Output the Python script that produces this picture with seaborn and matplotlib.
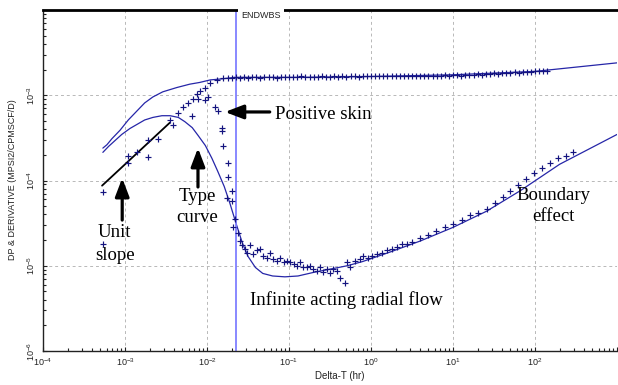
import numpy as np
import pandas as pd
import matplotlib
matplotlib.use("Agg")
import matplotlib.pyplot as plt
import seaborn as sns
from matplotlib.ticker import FixedLocator, FixedFormatter, LogLocator, NullFormatter

# ---------------- data (log10 values) ----------------
# pressure change (DP) data points
dp_log_t = [-3.27, -2.96, -2.85, -2.72, -2.60, -2.45, -2.35, -2.29, -2.23, -2.17,
            -2.12, -2.09, -2.02, -1.96, -1.88, -1.80,
            -1.75, -1.70, -1.65, -1.60, -1.55, -1.50, -1.45, -1.40, -1.35, -1.30,
            -1.25, -1.20, -1.15, -1.10, -1.05, -1.00, -0.95, -0.90, -0.85, -0.80,
            -0.75, -0.70, -0.65, -0.60, -0.55, -0.50, -0.45, -0.40, -0.35, -0.30,
            -0.25, -0.20, -0.15, -0.10, -0.05, 0.00, 0.05, 0.10, 0.15, 0.20,
            0.25, 0.30, 0.35, 0.40, 0.45, 0.50, 0.55, 0.60, 0.65, 0.70,
            0.75, 0.80, 0.85, 0.90, 0.95, 1.00, 1.05, 1.10, 1.15, 1.20,
            1.25, 1.30, 1.35, 1.40, 1.45, 1.50, 1.55, 1.60, 1.65, 1.70,
            1.75, 1.80, 1.85, 1.90, 1.95, 2.00, 2.05, 2.10, 2.15]
dp_log_y = [-4.14, -3.80, -3.67, -3.53, -3.51, -3.29, -3.21, -3.14, -3.09, -3.04,
            -2.99, -2.95, -2.91, -2.86, -2.82, -2.80,
            -2.80, -2.80, -2.79, -2.80, -2.79, -2.80, -2.79, -2.79, -2.80, -2.79,
            -2.79, -2.79, -2.80, -2.79, -2.79, -2.79, -2.79, -2.79, -2.78, -2.79,
            -2.79, -2.79, -2.79, -2.78, -2.79, -2.79, -2.78, -2.79, -2.78, -2.79,
            -2.78, -2.78, -2.79, -2.78, -2.78, -2.78, -2.78, -2.78, -2.78, -2.78,
            -2.77, -2.78, -2.78, -2.77, -2.78, -2.77, -2.77, -2.78, -2.77, -2.77,
            -2.77, -2.77, -2.77, -2.76, -2.77, -2.76, -2.76, -2.77, -2.76, -2.76,
            -2.76, -2.75, -2.76, -2.75, -2.75, -2.74, -2.75, -2.74, -2.74, -2.74,
            -2.73, -2.74, -2.73, -2.73, -2.73, -2.72, -2.72, -2.71, -2.71]

# pressure derivative data points
der_log_t = [-3.27, -2.96, -2.72, -2.41, -2.18, -2.11, -2.02, -1.99, -1.90, -1.87,
             -1.82, -1.82, -1.80, -1.74, -1.74, -1.70, -1.76, -1.70, -1.66, -1.68,
             -1.62, -1.60, -1.57, -1.54, -1.51, -1.48, -1.44, -1.39, -1.35, -1.32,
             -1.27, -1.23, -1.20, -1.15, -1.11, -1.06, -1.02, -0.99, -0.94, -0.90,
             -0.87, -0.83, -0.78, -0.74, -0.71, -0.66, -0.62, -0.59, -0.54, -0.50,
             -0.46, -0.41, -0.38, -0.32, -0.29, -0.26, -0.20, -0.13, -0.10, -0.04,
             0.01, 0.07, 0.13, 0.20, 0.26, 0.32, 0.38, 0.44, 0.50, 0.60,
             0.70, 0.79, 0.90, 1.00, 1.11, 1.21, 1.30, 1.41, 1.51, 1.61,
             1.70, 1.79, 1.89, 1.99, 2.09, 2.18, 2.28, 2.38, 2.46]
der_log_y = [-4.74, -3.71, -3.73, -3.35, -3.24, -3.04, -3.06, -3.02, -3.14, -3.18,
             -3.38, -3.42, -3.59, -3.80, -3.96, -4.12, -4.20, -4.24, -4.45, -4.55,
             -4.61, -4.71, -4.76, -4.80, -4.85, -4.76, -4.86, -4.82, -4.80, -4.88,
             -4.91, -4.85, -4.92, -4.94, -4.91, -4.96, -4.94, -4.96, -4.98, -5.00,
             -4.96, -5.01, -5.02, -5.00, -5.04, -5.06, -5.02, -5.07, -5.04, -5.08,
             -5.04, -5.06, -5.14, -5.20, -4.96, -5.01, -4.94, -4.92, -4.89, -4.91,
             -4.88, -4.86, -4.85, -4.82, -4.80, -4.78, -4.75, -4.74, -4.72, -4.68,
             -4.64, -4.59, -4.54, -4.51, -4.46, -4.41, -4.38, -4.33, -4.26, -4.19,
             -4.12, -4.05, -3.98, -3.91, -3.85, -3.79, -3.74, -3.71, -3.67]

# type curve: model pressure change
model_dp_log_t = [-3.27, -3.22, -3.16, -3.06, -2.96, -2.85, -2.76, -2.66, -2.54,
                  -2.37, -2.21, -2.09, -1.96, -1.84, -1.66, -0.87, 0.00, 1.00,
                  2.00, 3.00]
model_dp_log_y = [-3.62, -3.58, -3.51, -3.41, -3.29, -3.18, -3.09, -3.02, -2.96,
                  -2.91, -2.87, -2.85, -2.82, -2.81, -2.79, -2.79, -2.78, -2.76,
                  -2.72, -2.62]

# type curve: model derivative
model_der_log_t = [-3.27, -3.20, -3.12, -3.04, -2.94, -2.85, -2.76, -2.66, -2.55,
                   -2.45, -2.35, -2.27, -2.18, -2.11, -2.02, -1.94, -1.87, -1.79,
                   -1.72, -1.65, -1.57, -1.50, -1.41, -1.32, -1.20, -1.05, -0.89,
                   -0.71, -0.50, -0.29, -0.10, 0.23, 0.60, 1.00, 1.41, 1.82,
                   2.30, 3.00]
model_der_log_y = [-3.67, -3.60, -3.53, -3.46, -3.39, -3.34, -3.29, -3.26, -3.24,
                   -3.24, -3.26, -3.31, -3.38, -3.47, -3.59, -3.74, -3.89, -4.07,
                   -4.27, -4.49, -4.73, -4.89, -5.02, -5.09, -5.12, -5.13, -5.12,
                   -5.08, -5.04, -5.00, -4.95, -4.84, -4.71, -4.55, -4.36, -4.12,
                   -3.81, -3.46]

# unit slope guide line
unit_t = [5.25e-4, 3.55e-3]
unit_y = [8.7e-5, 4.8e-4]

# end of wellbore storage marker
endwbs_t = 0.0223

x_tick_vals = [1e-4, 1e-3, 1e-2, 1e-1, 1e0, 1e1, 1e2, 1e3]
x_tick_labels = [r"$\mathdefault{10^{-4}}$", r"$\mathdefault{10^{-3}}$",
                 r"$\mathdefault{10^{-2}}$", r"$\mathdefault{10^{-1}}$",
                 r"$\mathdefault{10^{0}}$", r"$\mathdefault{10^{1}}$",
                 r"$\mathdefault{10^{2}}$", ""]
y_tick_vals = [1e-6, 1e-5, 1e-4, 1e-3, 1e-2]
y_tick_labels = [r"$\mathdefault{10^{-6}}$", r"$\mathdefault{10^{-5}}$",
                 r"$\mathdefault{10^{-4}}$", r"$\mathdefault{10^{-3}}$", ""]

# ---------------- build frames ----------------
dp = pd.DataFrame({"t": 10 ** np.array(dp_log_t), "v": 10 ** np.array(dp_log_y)})
der = pd.DataFrame({"t": 10 ** np.array(der_log_t), "v": 10 ** np.array(der_log_y)})
mdp = pd.DataFrame({"t": 10 ** np.array(model_dp_log_t), "v": 10 ** np.array(model_dp_log_y)})
mder = pd.DataFrame({"t": 10 ** np.array(model_der_log_t), "v": 10 ** np.array(model_der_log_y)})

# ---------------- style ----------------
sns.set_theme(style="white")
plt.rcParams["font.family"] = ["Liberation Sans Narrow", "Liberation Sans", "DejaVu Sans"]
plt.rcParams["axes.unicode_minus"] = False

navy = "#14147f"
model_col = "#2626a8"
serif = ["Liberation Serif", "DejaVu Serif"]

fig = plt.figure(figsize=(6.18, 3.85), dpi=100)
fig.patch.set_facecolor("white")
ax = fig.add_axes([43 / 618, 34 / 385, 574 / 618, 341 / 385])
ax.set_facecolor("white")

ax.set_xscale("log")
ax.set_yscale("log")
ax.set_xlim(1e-4, 1e3)
ax.set_ylim(1e-6, 1e-2)

# grid
ax.grid(True, which="major", color="#b8b8b8", linestyle=(0, (3, 3)), linewidth=0.7)
ax.set_axisbelow(True)

# model curves
sns.lineplot(data=mdp, x="t", y="v", color=model_col, linewidth=0.9, ax=ax, sort=False)
sns.lineplot(data=mder, x="t", y="v", color=model_col, linewidth=0.9, ax=ax, sort=False)

# data points
sns.scatterplot(data=dp, x="t", y="v", marker="+", s=13, color=navy, linewidth=0.85,
                ax=ax, legend=False, zorder=3)
sns.scatterplot(data=der, x="t", y="v", marker="+", s=13, color=navy, linewidth=0.85,
                ax=ax, legend=False, zorder=3)

# unit slope line
sns.lineplot(x=unit_t, y=unit_y, color="black", linewidth=1.3, ax=ax)

# ENDWBS line
ax.axvline(endwbs_t, color="#7f7fff", linewidth=1.3, zorder=2)
ax.text(0.345, 0.985, "ENDWBS", transform=ax.transAxes, fontsize=6.5, ha="left",
        va="center", color="#222222",
        bbox=dict(facecolor="white", edgecolor="none", pad=2.5), zorder=6, clip_on=False)

# ticks
ax.xaxis.set_major_locator(FixedLocator(x_tick_vals))
ax.xaxis.set_major_formatter(FixedFormatter(x_tick_labels))
ax.yaxis.set_major_locator(FixedLocator(y_tick_vals))
ax.yaxis.set_major_formatter(FixedFormatter(y_tick_labels))
ax.xaxis.set_minor_locator(LogLocator(base=10, subs=np.arange(2, 10), numticks=20))
ax.yaxis.set_minor_locator(LogLocator(base=10, subs=np.arange(2, 10), numticks=20))
ax.xaxis.set_minor_formatter(NullFormatter())
ax.yaxis.set_minor_formatter(NullFormatter())
ax.tick_params(axis="both", which="major", direction="in", length=3, width=0.8,
               labelsize=6.5, colors="#222222", pad=4)
ax.tick_params(axis="both", which="minor", direction="in", length=2, width=0.8,
               color="#222222")
ax.tick_params(axis="x", which="both", bottom=True, top=False)
ax.tick_params(axis="y", which="both", left=True, right=False)
for lab in ax.get_yticklabels():
    lab.set_rotation(90)
    lab.set_va("center")

# spines
for side in ["left", "bottom"]:
    ax.spines[side].set_color("#222222")
    ax.spines[side].set_linewidth(1.0)
ax.spines["top"].set_color("black")
ax.spines["top"].set_linewidth(2.0)
ax.spines["right"].set_visible(False)

ax.set_xlabel("Delta-T (hr)", fontsize=7, color="#222222")
ax.set_ylabel("DP & DERIVATIVE (MPSI2/CPMSCF/D)", fontsize=6.5, color="#222222")
ax.xaxis.set_label_coords((340 - 43) / 574, -(371 - 351) / 341)
ax.yaxis.set_label_coords(-(43 - 17) / 574, (351 - 180) / 341)

# annotations
arrow_kw = dict(arrowstyle="-|>,head_length=1.1,head_width=0.42", color="black",
                lw=2.3, shrinkA=0, shrinkB=0, mutation_scale=10)
ax.annotate("", xy=(0.317, 0.701), xytext=(0.395, 0.701), xycoords="axes fraction",
            textcoords="axes fraction", arrowprops=arrow_kw)
ax.annotate("", xy=(0.270, 0.595), xytext=(0.270, 0.481), xycoords="axes fraction",
            textcoords="axes fraction", arrowprops=arrow_kw)
ax.annotate("", xy=(0.138, 0.507), xytext=(0.138, 0.384), xycoords="axes fraction",
            textcoords="axes fraction", arrowprops=arrow_kw)

txt_kw = dict(transform=ax.transAxes, fontsize=13.5, family=serif, color="black")
ax.text(0.404, 0.694, "Positive skin", ha="left", va="center", **txt_kw)
ax.text(0.268, 0.422, "Type\ncurve", ha="center", va="center", linespacing=1.3, **txt_kw)
ax.text(0.125, 0.314, "Unit\nslope", ha="center", va="center", linespacing=1.5, **txt_kw)
ax.text(0.528, 0.150, "Infinite acting radial flow", ha="center", va="center", **txt_kw)
ax.text(0.890, 0.425, "Boundary\neffect", ha="center", va="center", linespacing=1.3,
        **txt_kw)

fig.savefig("out.png", dpi=100)
